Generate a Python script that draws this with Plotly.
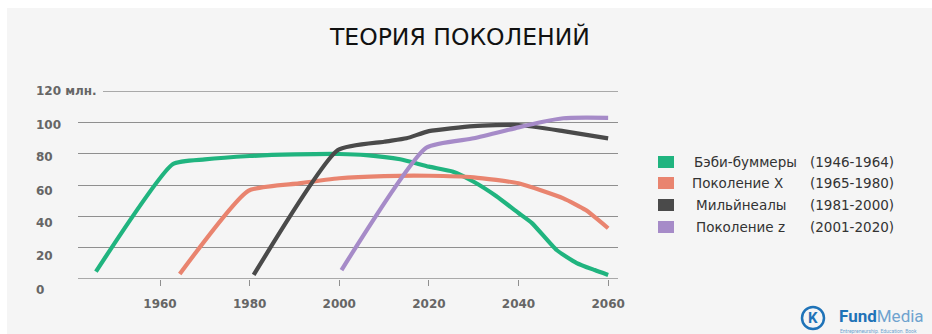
import plotly.graph_objects as go

# ---------------- data ----------------
title_text = "ТЕОРИЯ ПОКОЛЕНИЙ"

boomers_x = [1945.7, 1962.9, 1970, 1980, 1990, 2000, 2006, 2013.6, 2020, 2025.4, 2030, 2035, 2040, 2043, 2048.5, 2053, 2057, 2060]
boomers_y = [4.7, 73.4, 76.3, 78.5, 79.5, 79.8, 79.1, 76.4, 71.7, 68.5, 62.1, 53, 42.1, 35.7, 18.5, 10.2, 5.7, 2.6]

genx_x = [1964.4, 1979.7, 1991, 2000, 2010, 2020, 2030, 2040, 2050, 2055, 2060]
genx_y = [3.2, 56.3, 61, 64.3, 65.7, 65.9, 64.9, 61.1, 51.5, 44, 32.4]

mill_x = [1980.9, 1999.7, 2010, 2015, 2020, 2030, 2040, 2050, 2060]
mill_y = [2.6, 82.3, 87.6, 89.8, 94.4, 97.6, 98.3, 94.4, 89.8]

genz_x = [2000.5, 2019.4, 2030, 2040, 2045.5, 2050, 2055, 2060]
genz_y = [5.7, 83.8, 89.8, 96.8, 100.4, 102.6, 103, 102.9]

series_names = ["Бэби-буммеры", "Поколение X", "Мильйнеалы", "Поколение z"]
series_years = ["(1946-1964)", "(1965-1980)", "(1981-2000)", "(2001-2020)"]
series_colors = ["#20b47f", "#e9846f", "#4a4a4a", "#a68bc8"]

x_ticks = [1960, 1980, 2000, 2020, 2040, 2060]
y_ticks = [0, 20, 40, 60, 80, 100, 120]
y_tick_labels = ["0", "20", "40", "60", "80", "100", "120 млн."]

# ---------------- figure ----------------
fig = go.Figure()
series = [(boomers_x, boomers_y), (genx_x, genx_y), (mill_x, mill_y), (genz_x, genz_y)]
for (xs, ys), name, col in zip(series, series_names, series_colors):
    fig.add_trace(go.Scatter(x=xs, y=ys, mode="lines", name=name,
                             line=dict(color=col, width=4.2, shape="spline", smoothing=0.5),
                             showlegend=False))

L, R, T, B = 78, 618, 91, 279
W, H = 932, 334
pw, ph = R - L, B - T

def px(xpix):
    return (xpix - L) / pw

def py(ypix):
    return (B - ypix) / ph

GRID = "#8f8f8f"
shapes = []
# background panel
shapes.append(dict(type="rect", xref="paper", yref="paper", x0=px(7), x1=px(W + 2), y0=py(8), y1=py(H + 2),
                   fillcolor="#f5f5f5", line=dict(width=0), layer="below"))
# top (120) gridline is shorter
shapes.append(dict(type="line", xref="paper", yref="y", x0=px(103), x1=1, y0=y_ticks[-1], y1=y_ticks[-1],
                   line=dict(color=GRID, width=1.3), layer="below"))
# baseline (0)
shapes.append(dict(type="line", xref="paper", yref="y", x0=0, x1=1, y0=y_ticks[0], y1=y_ticks[0],
                   line=dict(color=GRID, width=1.3), layer="below"))

annotations = []
label_shift = [-11, -8, -7, -6, -3, -3, 0]
for v, lab, s in zip(y_ticks, y_tick_labels, label_shift):
    annotations.append(dict(x=px(34), xref="paper", y=v, yref="y", text="<b>" + lab + "</b>",
                            showarrow=False, xanchor="left", yanchor="middle", yshift=s,
                            font=dict(family="DejaVu Sans", size=12, color="#666666")))

# legend
row_y = [162, 183, 205, 227]
name_x = [692, 690, 694, 694]
for i in range(4):
    shapes.append(dict(type="rect", xref="paper", yref="paper", x0=px(658), x1=px(674),
                       y0=py(row_y[i] + 6), y1=py(row_y[i] - 6), fillcolor=series_colors[i], line=dict(width=0)))
    annotations.append(dict(x=px(name_x[i]), xref="paper", y=py(row_y[i]), yref="paper", text=series_names[i],
                            showarrow=False, xanchor="left", yanchor="middle",
                            font=dict(family="DejaVu Sans", size=13.5, color="#333333")))
    annotations.append(dict(x=px(808), xref="paper", y=py(row_y[i]), yref="paper", text=series_years[i],
                            showarrow=False, xanchor="left", yanchor="middle",
                            font=dict(family="DejaVu Sans", size=13.5, color="#333333")))

# title
annotations.append(dict(x=px(459), xref="paper", y=py(37), yref="paper", text=title_text, showarrow=False,
                        xanchor="center", yanchor="middle",
                        font=dict(family="DejaVu Sans", size=23.5, color="#111111")))

# watermark logo
shapes.append(dict(type="circle", xref="paper", yref="paper", x0=px(802), x1=px(824), y0=py(329), y1=py(307),
                   line=dict(color="#1f73b8", width=2.5), fillcolor="rgba(0,0,0,0)"))
annotations.append(dict(x=px(813), xref="paper", y=py(318), yref="paper", text="<b>K</b>", showarrow=False,
                        xanchor="center", yanchor="middle", font=dict(family="Roboto", size=15, color="#1f73b8")))
annotations.append(dict(x=px(837), xref="paper", y=py(316), yref="paper",
                        text="<b>Fund</b><span style='color:#6fa3cf'>Media</span>", showarrow=False,
                        xanchor="left", yanchor="middle", font=dict(family="Roboto", size=17, color="#1f73b8")))
annotations.append(dict(x=px(838), xref="paper", y=py(331), yref="paper",
                        text="Entrepreneurship. Education. Book", showarrow=False,
                        xanchor="left", yanchor="middle", font=dict(family="Roboto", size=5, color="#6fa3cf")))

fig.update_layout(
    width=W, height=H,
    margin=dict(l=L, r=W - R, t=T, b=H - B, pad=0),
    paper_bgcolor="white", plot_bgcolor="rgba(0,0,0,0)",
    shapes=shapes, annotations=annotations,
    xaxis=dict(range=[1941.7, 2062.2], tickvals=x_ticks, ticktext=["<b>%d</b>" % t for t in x_ticks],
               showgrid=False, zeroline=False, showline=False, ticks="outside", ticklen=6,
               tickcolor=GRID, tickwidth=1.3, ticklabelstandoff=8,
               tickfont=dict(family="DejaVu Sans", size=12, color="#666666"), fixedrange=True),
    yaxis=dict(range=[0, 120], tickvals=y_ticks[1:-1], showticklabels=False, showgrid=True,
               gridcolor=GRID, gridwidth=1.3, zeroline=False, showline=False, fixedrange=True),
)

fig.write_html("out.html")
